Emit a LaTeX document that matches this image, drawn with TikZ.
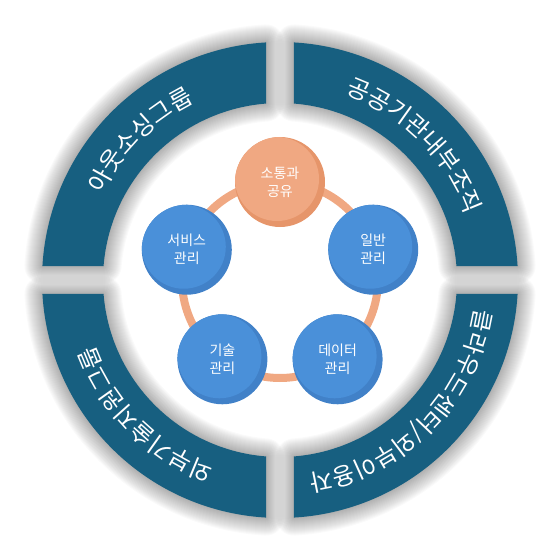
\documentclass[tikz,border=0pt]{standalone}
\usepackage{fontspec}
\setmainfont{Noto Sans CJK KR}
\newfontfamily\arcfont{Noto Sans CJK KR}
\usetikzlibrary{decorations.text,backgrounds}
\definecolor{ringcol}{HTML}{175F80}
\definecolor{blueA}{HTML}{4A90D9}
\definecolor{blueB}{HTML}{4181C8}
\definecolor{orA}{HTML}{F0A882}
\definecolor{orB}{HTML}{E6956A}
\tikzset{
  segfill/.style={fill=ringcol},
  glow/.style={draw=black, draw opacity=0.018, line join=round},
  bub/.style={circle, minimum size=90pt, inner sep=0pt, text=white,
    font=\fontsize{14}{18}\selectfont, align=center},
  bluebub/.style={bub, fill=blueB, path picture={\fill[blueA]
    ([xshift=-3pt,yshift=3pt]path picture bounding box.center) circle (42pt);}},
  orbub/.style={bub, fill=orB, path picture={\fill[orA]
    ([xshift=-3pt,yshift=3pt]path picture bounding box.center) circle (42pt);}},
  link/.style={draw=orA, line width=8pt},
  arcdeco/.style={decorate, decoration={text along path, text align=center, text color=white,
    text={|\arcfont\fontsize{24}{24}\selectfont|#1}}}
}
\begin{document}
\begin{tikzpicture}[x=1pt,y=1pt]
\useasboundingbox (-280,-280) rectangle (280,280);
% ring segments with soft shadow
\foreach \a in {0,90,180,270}{
  \begin{scope}[rotate=\a]
    \foreach \w in {2,4,...,36}{
      \draw[glow, line width=\w pt] (86.628:238pt) arc[start angle=86.628,end angle=3.372,radius=238pt]
        -- (4.537:177pt) arc[start angle=4.537,end angle=85.463,radius=177pt] -- cycle;
    }
  \end{scope}
}
\foreach \a in {0,90,180,270}{
  \begin{scope}[rotate=\a]
    \fill[segfill] (86.628:238pt) arc[start angle=86.628,end angle=3.372,radius=238pt]
      -- (4.537:177pt) arc[start angle=4.537,end angle=85.463,radius=177pt] -- cycle;
  \end{scope}
}
% texts along the arcs
\path[arcdeco={아웃소싱그룹}]
  (180:197pt) arc[start angle=180,end angle=90,radius=197pt];
\path[arcdeco={공공기관내부조직}]
  (90:197pt) arc[start angle=90,end angle=0,radius=197pt];
\path[arcdeco={클라우드센터/외부이용자}]
  (0:197pt) arc[start angle=0,end angle=-90,radius=197pt];
\path[arcdeco={외부기술지원그룹}]
  (-90:197pt) arc[start angle=-90,end angle=-180,radius=197pt];
% inner nodes
\node[orbub] (n1) at (90:98pt) {소통과\\공유};
\node[bluebub] (n2) at (18:98pt) {일반\\관리};
\node[bluebub] (n3) at (-54:98pt) {데이터\\관리};
\node[bluebub] (n4) at (-126:98pt) {기술\\관리};
\node[bluebub] (n5) at (162:98pt) {서비스\\관리};
\begin{scope}[on background layer]
  \draw[link] (n1.center) arc[start angle=90,end angle=18,radius=98pt];
  \draw[link] (n2.center) arc[start angle=18,end angle=-54,radius=98pt];
  \draw[link] (n3.center) arc[start angle=-54,end angle=-126,radius=98pt];
  \draw[link] (n4.center) arc[start angle=-126,end angle=-198,radius=98pt];
  \draw[link] (n5.center) arc[start angle=162,end angle=90,radius=98pt];
\end{scope}
\end{tikzpicture}
\end{document}
